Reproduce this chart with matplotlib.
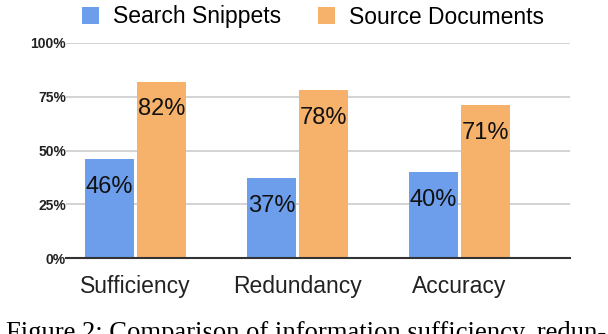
import matplotlib.pyplot as plt
import numpy as np

# data
metrics = ['Sufficiency', 'Redundancy', 'Accuracy']
snippets = [46, 37, 40]
documents = [82, 78, 71]
series_names = ['Search Snippets', 'Source Documents']
yticks = [0, 25, 50, 75, 100]

blue, orange = '#6d9eeb', '#f6b26b'
plt.rcParams['font.family'] = ['Liberation Sans', 'DejaVu Sans']

fig = plt.figure(figsize=(6.08, 3.34), dpi=100)
ax = fig.add_axes([66/608, 76/334, 504/608, 215/334])

x = np.arange(len(metrics))
w = 0.30
b1 = ax.bar(x - 0.16, snippets, w, color=blue, label=series_names[0], zorder=3)
b2 = ax.bar(x + 0.16, documents, w, color=orange, label=series_names[1], zorder=3)

for bars, vals in [(b1, snippets), (b2, documents)]:
    for r, v in zip(bars, vals):
        ax.annotate(f'{v}%', (r.get_x() + r.get_width()/2, v), xytext=(0, -20),
                    textcoords='offset points', ha='center', va='center',
                    fontsize=17, color='#111111', zorder=4)

ax.set_xlim(-0.429, 2.682)
ax.set_ylim(0, 100)
ax.set_yticks(yticks)
ax.set_yticklabels([f'{t}%' for t in yticks], fontsize=10, fontweight='bold', color='#222222')
ax.set_xticks(x)
ax.set_xticklabels(metrics, fontsize=16.5, color='#222222')
ax.tick_params(axis='y', length=0, pad=0)
ax.tick_params(axis='x', length=0, pad=12)
ax.grid(axis='y', color='#cccccc', linewidth=1.2, zorder=0)
for s in ['top', 'right', 'left']:
    ax.spines[s].set_visible(False)
ax.spines['bottom'].set_color('#333333')
ax.spines['bottom'].set_linewidth(1.5)
ax.spines['bottom'].set_zorder(5)

fig.legend(loc='center', bbox_to_anchor=(313/608, 1 - 17/334), ncol=2, frameon=False,
           fontsize=16.5, handlelength=0.75, handleheight=0.75, handletextpad=0.6,
           columnspacing=1.6)

fig.text(6/608, -6/334, 'Figure 2: Comparison of information sufficiency, redun-',
         family='Liberation Serif', fontsize=19.2, va='baseline', ha='left')

fig.savefig('out.png', dpi=100)
